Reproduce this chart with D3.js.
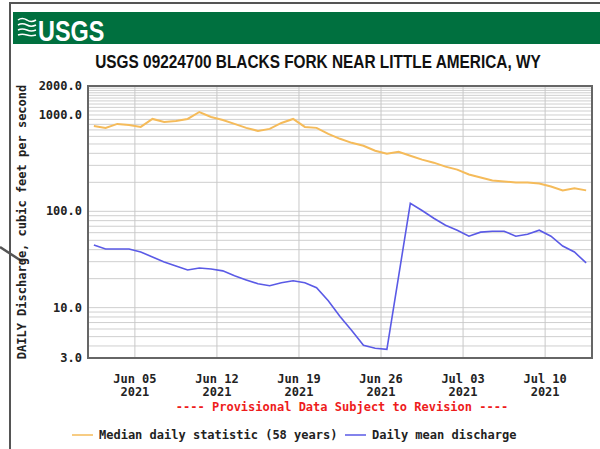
<!DOCTYPE html>
<html>
<head>
<meta charset="utf-8">
<script src="https://cdn.jsdelivr.net/npm/d3@7"></script>
<style>
  body { margin: 0; background: #fff; }
  text { font-family: "DejaVu Sans Mono", monospace; font-weight: bold; }
</style>
</head>
<body>
<div id="chart"></div>
<script>
// daily values, Jun 01 - Jul 13 2021
const dates = [
  "2021-06-01", "2021-06-02", "2021-06-03", "2021-06-04", "2021-06-05", "2021-06-06", "2021-06-07",
  "2021-06-08", "2021-06-09", "2021-06-10", "2021-06-11", "2021-06-12", "2021-06-13", "2021-06-14",
  "2021-06-15", "2021-06-16", "2021-06-17", "2021-06-18", "2021-06-19", "2021-06-20", "2021-06-21",
  "2021-06-22", "2021-06-23", "2021-06-24", "2021-06-25", "2021-06-26", "2021-06-27", "2021-06-28",
  "2021-06-29", "2021-06-30", "2021-07-01", "2021-07-02", "2021-07-03", "2021-07-04", "2021-07-05",
  "2021-07-06", "2021-07-07", "2021-07-08", "2021-07-09", "2021-07-10", "2021-07-11", "2021-07-12",
  "2021-07-13"
];
const median = [
  770, 735, 808, 789, 752, 910, 847, 867, 910, 1074, 953, 888, 808, 735,
  684, 717, 827, 910, 752, 735, 637, 566, 514, 479, 425, 396, 415, 378,
  344, 320, 291, 271, 241, 224, 209, 204, 199, 199, 194, 181, 165, 173,
  165
];
const dailyMean = [
  44.6, 40.6, 40.6, 40.6, 37.8, 33.6, 29.8, 27.1, 24.6, 25.8, 25.2, 24.1, 21.4, 19.4,
  17.7, 16.9, 18.1, 19.0, 18.1, 16.1, 11.8, 8.1, 5.8, 4.06, 3.78, 3.69, 21.1, 121,
  102, 84.7, 71.8, 63.7, 55.2, 60.8, 62.2, 62.2, 55.2, 57.9, 63.7, 55.2, 43.6, 37.8,
  29.1
];
const yTicks = [3, 10, 100, 1000, 2000];
const yGrid = [3, 4, 5, 6, 7, 8, 9, 10, 20, 30, 40, 50, 60, 70, 80, 90,
  100, 200, 300, 400, 500, 600, 700, 800, 900,
  1000, 1100, 1200, 1300, 1400, 1500, 1600, 1700, 1800, 1900, 2000];
const xTicks = ["2021-06-05", "2021-06-12", "2021-06-19", "2021-06-26", "2021-07-03", "2021-07-10"];

const width = 600, height = 449;
const plot = { left: 88, right: 592, top: 86, bottom: 358 };
const parse = d3.utcParse("%Y-%m-%d");

const svg = d3.select("#chart").append("svg")
  .attr("width", width)
  .attr("height", height);

// outer frame of the page
svg.append("path")
  .attr("d", "M10,449 V3 H600")
  .attr("fill", "none")
  .attr("stroke", "#555")
  .attr("stroke-width", 2);

// stray arrow line at the left
svg.append("line")
  .attr("x1", 0).attr("y1", 247).attr("x2", 23).attr("y2", 262)
  .attr("stroke", "#555").attr("stroke-width", 2.5);

// green banner
svg.append("rect")
  .attr("x", 13).attr("y", 12).attr("width", 587).attr("height", 32)
  .attr("fill", "#00703f");

// logo waves
const logo = svg.append("g")
  .attr("fill", "none")
  .attr("stroke", "#fff")
  .attr("stroke-width", 1.5);
[20, 25, 30, 35].forEach((y0, i) => {
  logo.append("path")
    .attr("d", "M18," + y0 + " q4,-" + (3 - i * 0.5) + " 9,0 q4," + (3 - i * 0.5) + " 9,0");
});
// condensed look: sans text squeezed horizontally
svg.append("text")
  .attr("transform", "translate(38,41) scale(0.78,1)")
  .style("font-family", "'Liberation Sans', sans-serif")
  .style("font-size", "30px")
  .attr("fill", "#fff")
  .text("USGS");

// title
svg.append("text")
  .attr("transform", "translate(318,68) scale(0.855,1)")
  .attr("text-anchor", "middle")
  .style("font-family", "'Liberation Sans', sans-serif")
  .style("font-size", "18px")
  .attr("fill", "#111")
  .text("USGS 09224700 BLACKS FORK NEAR LITTLE AMERICA, WY");

const x = d3.scaleUtc()
  .domain([parse("2021-06-01"), parse("2021-07-14")])
  .range([plot.left, plot.right]);

const y = d3.scaleLog()
  .domain([3, 2000])
  .range([plot.bottom, plot.top]);

// grid
svg.append("g").selectAll("line")
  .data(yGrid)
  .join("line")
  .attr("x1", plot.left).attr("x2", plot.right)
  .attr("y1", d => y(d)).attr("y2", d => y(d))
  .attr("stroke", "#cfcfcf").attr("stroke-width", 1);

svg.append("g").selectAll("line")
  .data(xTicks)
  .join("line")
  .attr("x1", d => x(parse(d))).attr("x2", d => x(parse(d)))
  .attr("y1", plot.top).attr("y2", plot.bottom)
  .attr("stroke", "#c8c8c8").attr("stroke-width", 1);

// y tick labels
svg.append("g").selectAll("text")
  .data(yTicks)
  .join("text")
  .attr("x", 82)
  .attr("y", d => y(d) + 4)
  .attr("text-anchor", "end")
  .style("font-size", "12px")
  .attr("fill", "#222")
  .text(d => d3.format(".1f")(d));

// x tick labels
const xl = svg.append("g").selectAll("g")
  .data(xTicks)
  .join("g")
  .attr("transform", d => "translate(" + x(parse(d)) + ",0)");
xl.append("text")
  .attr("y", 383)
  .attr("text-anchor", "middle")
  .style("font-size", "12px")
  .attr("fill", "#222")
  .text(d => d3.utcFormat("%b %d")(parse(d)));
xl.append("text")
  .attr("y", 396)
  .attr("text-anchor", "middle")
  .style("font-size", "12px")
  .attr("fill", "#222")
  .text(d => d3.utcFormat("%Y")(parse(d)));

// y axis title
svg.append("text")
  .attr("transform", "translate(26," + (plot.top + plot.bottom) / 2 + ") rotate(-90)")
  .attr("text-anchor", "middle")
  .style("font-size", "12px")
  .attr("fill", "#222")
  .text("DAILY Discharge, cubic feet per second");

// series
const line = d3.line()
  .x((d, i) => x(d3.utcHour.offset(parse(dates[i]), 12)))
  .y(d => y(d));

svg.append("path")
  .datum(median)
  .attr("d", line)
  .attr("fill", "none")
  .attr("stroke", "#f5bb5a")
  .attr("stroke-width", 2);

svg.append("path")
  .datum(dailyMean)
  .attr("d", line)
  .attr("fill", "none")
  .attr("stroke", "#5a5ae6")
  .attr("stroke-width", 1.6);

// plot frame
svg.append("rect")
  .attr("x", plot.left).attr("y", plot.top)
  .attr("width", plot.right - plot.left).attr("height", plot.bottom - plot.top)
  .attr("fill", "none")
  .attr("stroke", "#666")
  .attr("stroke-width", 2);

// provisional note
svg.append("text")
  .attr("x", 342).attr("y", 411)
  .attr("text-anchor", "middle")
  .style("font-size", "12px")
  .attr("fill", "#ee1c1c")
  .text("---- Provisional Data Subject to Revision ----");

// legend
const legend = [
  { label: "Median daily statistic (58 years)", color: "#f5bb5a", x: 72 },
  { label: "Daily mean discharge", color: "#5a5ae6", x: 345 }
];
const lg = svg.append("g").selectAll("g")
  .data(legend)
  .join("g")
  .attr("transform", d => "translate(" + d.x + ",436)");
lg.append("line")
  .attr("x1", 0).attr("x2", 21).attr("y1", -1).attr("y2", -1)
  .attr("stroke", d => d.color).attr("stroke-width", 1.5);
lg.append("text")
  .attr("x", 27).attr("y", 3)
  .style("font-size", "12px")
  .attr("fill", "#222")
  .text(d => d.label);
</script>
</body>
</html>
